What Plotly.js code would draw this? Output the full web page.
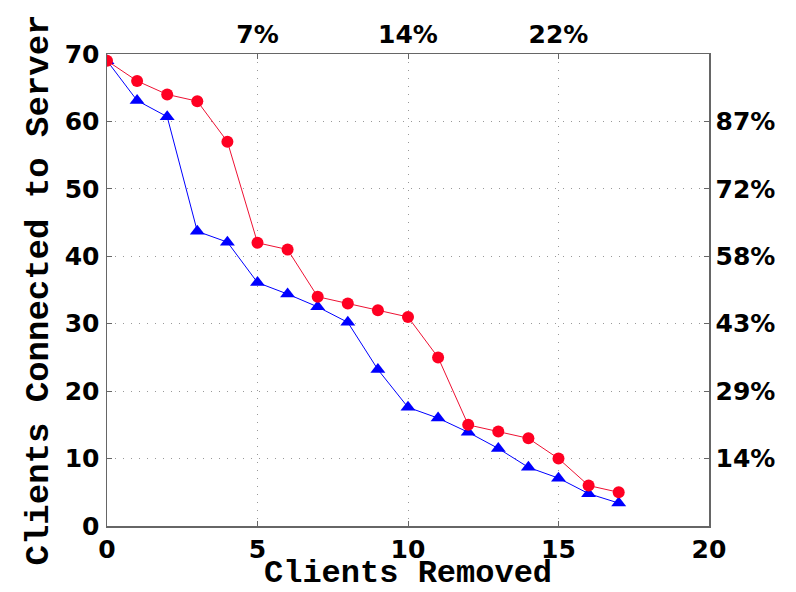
<!DOCTYPE html>
<html><head><meta charset="utf-8">
<script src="https://cdn.plot.ly/plotly-3.0.1.min.js"></script>
<style>html,body{margin:0;padding:0;background:#fff}#chart{width:796px;height:592px}</style>
</head><body><div id="chart"></div>
<script>
const clientsRemoved = [0,1,2,3,4,5,6,7,8,9,10,11,12,13,14,15,16,17];
const redSeries = [69,66,64,63,57,42,41,34,33,32,31,25,15,14,13,10,6,5];
const blueSeries = [69,63.1,60.7,43.7,42.1,36.1,34.4,32.5,30.2,23.2,17.6,16.0,13.9,11.5,8.7,7.1,4.8,3.4];
const topTickVals = [5,10,15];
const topTickText = ['7%','14%','22%'];
const rightTickVals = [10,20,30,40,50,60];
const rightTickText = ['14%','29%','43%','58%','72%','87%'];

const tickFont = {family:'DejaVu Sans', size:25, color:'#000', weight:'bold'};
const titleFont = {family:'Liberation Mono', size:34, color:'#000', weight:'bold'};
const xTitleFont = {family:'Liberation Mono', size:32, color:'#000', weight:'bold'};
const axisCommon = {showline:true, linecolor:'#666', linewidth:1.5, ticks:'inside', ticklen:5, tickcolor:'#666', zeroline:false, tickfont:tickFont};
const gridStyle = {showgrid:true, gridcolor:'#999', griddash:'1px,7px', gridwidth:1};

const traces = [
  {x:clientsRemoved, y:blueSeries, type:'scatter', mode:'lines+markers', line:{color:'blue', width:1}, marker:{symbol:'triangle-up', size:13, color:'blue'}},
  {x:clientsRemoved, y:redSeries, type:'scatter', mode:'lines+markers', line:{color:'#ee1133', width:1}, marker:{symbol:'circle', size:12, color:'#ff0022'}},
  {x:[0], y:[0], xaxis:'x2', yaxis:'y2', type:'scatter', mode:'markers', marker:{opacity:0}, hoverinfo:'skip'}
];

const layout = {
  width:796, height:592, showlegend:false,
  paper_bgcolor:'#fff', plot_bgcolor:'#fff',
  margin:{l:107, r:87, t:54, b:66},
  xaxis: Object.assign({}, axisCommon, gridStyle, {range:[0,20], tickvals:[0,5,10,15,20], ticklabelstandoff:0}),
  yaxis: Object.assign({}, axisCommon, gridStyle, {range:[0,70], tickvals:[0,10,20,30,40,50,60,70],
    ticklabelstandoff:1, title:{text:'Clients Connected to Server', font:titleFont, standoff:6}}),
  xaxis2: Object.assign({}, axisCommon, {overlaying:'x', side:'top', range:[0,20], tickvals:topTickVals, ticktext:topTickText, showgrid:false, ticklabelstandoff:0}),
  yaxis2: Object.assign({}, axisCommon, {overlaying:'y', side:'right', range:[0,70], tickvals:rightTickVals, ticktext:rightTickText, showgrid:false, ticklabelstandoff:0}),
  annotations:[{text:'Clients Removed', xref:'paper', yref:'paper', x:0.5, y:-0.1, xanchor:'center', yanchor:'middle', showarrow:false, font:xTitleFont}]
};

Plotly.newPlot('chart', traces, layout, {displayModeBar:false, staticPlot:true});
</script></body></html>
